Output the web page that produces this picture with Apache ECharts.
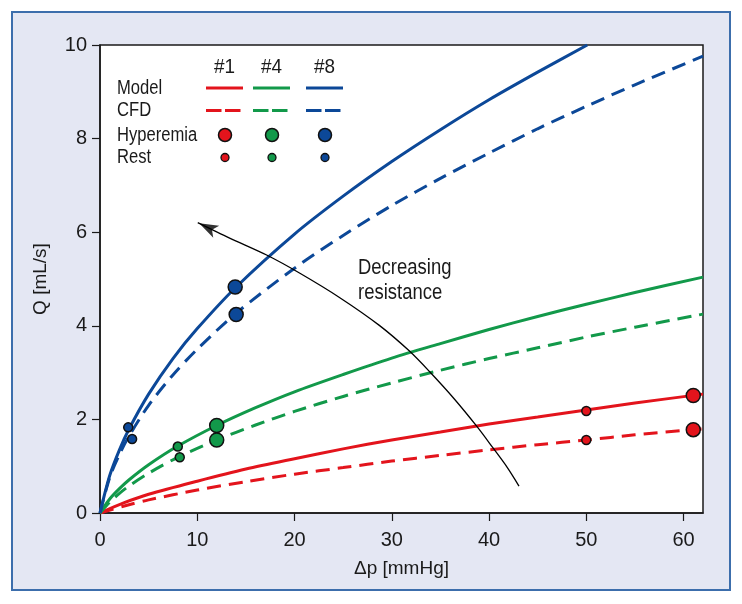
<!DOCTYPE html>
<html>
<head>
<meta charset="utf-8">
<script src="https://cdn.jsdelivr.net/npm/echarts@6/dist/echarts.min.js"></script>
<style>
html,body{margin:0;padding:0;background:#fff;}
#frame{position:absolute;left:11px;top:11px;width:716px;height:576px;background:#e4e7f3;border:2px solid #3c6eac;}
#chart{position:absolute;left:0;top:0;width:742px;height:604px;}
</style>
</head>
<body>
<div id="frame"></div>
<div id="chart"></div>
<script>
// ---- tick labels ----
const xTicks = [0, 10, 20, 30, 40, 50, 60];
const yTicks = [0, 2, 4, 6, 8, 10];

// ---- #1 (red) ----
const x1 = [0, 2.5, 5, 10, 15, 20, 25, 30, 35, 40, 45, 50, 55, 62];
const model1 = [0, 0.22, 0.40, 0.68, 0.94, 1.16, 1.37, 1.56, 1.73, 1.90, 2.05, 2.20, 2.35, 2.54];
const cfd1 = [0, 0.15, 0.28, 0.49, 0.67, 0.83, 0.97, 1.11, 1.23, 1.35, 1.46, 1.56, 1.67, 1.80];

// ---- #4 (green) ----
const x4 = [0, 1, 2, 3, 5, 8, 12, 16, 20, 25, 30, 35, 40, 45, 50, 55, 62];
const model4 = [0, 0.30, 0.52, 0.71, 1.03, 1.43, 1.87, 2.25, 2.59, 2.96, 3.31, 3.62, 3.92, 4.20, 4.46, 4.71, 5.04];
const cfd4 = [0, 0.23, 0.42, 0.58, 0.85, 1.19, 1.56, 1.88, 2.17, 2.49, 2.78, 3.05, 3.30, 3.53, 3.76, 3.97, 4.25];

// ---- #8 (blue) ----
const x8model = [0, 1, 2, 3, 5, 7.5, 10, 14, 20, 25, 30, 35, 40, 45, 50.1];
const model8 = [0, 0.80, 1.35, 1.80, 2.54, 3.30, 3.94, 4.83, 5.96, 6.77, 7.51, 8.19, 8.83, 9.42, 10];
const x8cfd = [0, 1, 2, 3, 5, 7.5, 10, 14, 20, 25, 30, 35, 40, 45, 50, 55, 62];
const cfd8 = [0, 0.76, 1.25, 1.65, 2.30, 2.95, 3.50, 4.27, 5.23, 5.93, 6.57, 7.15, 7.69, 8.21, 8.69, 9.15, 9.76];

// ---- measured points [Δp, Q] ----
const hyper1 = [[61, 2.51], [61, 1.78]];
const rest1 = [[50, 2.18], [50, 1.56]];
const hyper4 = [[12, 1.87], [12, 1.56]];
const rest4 = [[8, 1.42], [8.2, 1.19]];
const hyper8 = [[13.9, 4.83], [14.0, 4.24]];
const rest8 = [[2.9, 1.83], [3.3, 1.58]];

// ---- "decreasing resistance" arrow ----
const arrowX = [10.05, 13.33, 17.13, 20.51, 24.62, 28.72, 31.79, 33.85, 36.41, 38.77, 40.31, 41.85, 43.08];
const arrowY = [6.205, 5.874, 5.512, 5.128, 4.606, 4.009, 3.465, 3.028, 2.441, 1.844, 1.418, 0.981, 0.576];
const arrowHead = [[10.2, 6.19]];

const RED = '#e3141c', GREEN = '#12994a', BLUE = '#0c4898';
const FONT = "'Liberation Sans', Arial, 'Helvetica', sans-serif";
const INK = '#1a1a1a';

const zip = (xs, ys) => xs.map((x, i) => [x, ys[i]]);

function curve(name, xs, ys, color, dashed) {
  return {
    name, type: 'line', data: zip(xs, ys), smooth: 0.3,
    symbol: 'none', silent: true, z: 3,
    lineStyle: { color, width: 3, type: dashed ? [14, 8] : 'solid', cap: 'butt' }
  };
}
function dots(name, data, color, size) {
  return {
    name, type: 'scatter', data, symbol: 'circle', symbolSize: size, z: 6, silent: true,
    itemStyle: { color, borderColor: '#111', borderWidth: 1.5, opacity: 1 }
  };
}

// ---- legend table (decoration) ----
const legendCols = [{ label: '#1', c: RED, x0: 206, x1: 243 }, { label: '#4', c: GREEN, x0: 253, x1: 290 }, { label: '#8', c: BLUE, x0: 306, x1: 343 }];
const rowLabels = ['Model', 'CFD', 'Hyperemia', 'Rest'];
const rowY = [88, 110.5, 135, 157.5];
const graphics = [];
function txt(text, x, y, size, align, sx) {
  graphics.push({
    type: 'text', x, y, scaleX: sx, scaleY: 1, silent: true, z: 20,
    style: { text, fill: INK, font: size + 'px ' + FONT, align: align, textAlign: align, verticalAlign: 'middle', textVerticalAlign: 'middle' }
  });
}
legendCols.forEach(col => {
  const cx = (col.x0 + col.x1) / 2;
  txt(col.label, cx, 67, 21, 'center', 0.9);
  graphics.push({ type: 'line', z: 20, silent: true, shape: { x1: col.x0, y1: rowY[0], x2: col.x1, y2: rowY[0] }, style: { stroke: col.c, lineWidth: 3 } });
  graphics.push({ type: 'line', z: 20, silent: true, shape: { x1: col.x0, y1: rowY[1], x2: col.x1 - 2, y2: rowY[1] }, style: { stroke: col.c, lineWidth: 3, lineDash: [15.5, 3.5] } });
  graphics.push({ type: 'circle', z: 20, silent: true, shape: { cx: cx + 0.5, cy: rowY[2], r: 6.5 }, style: { fill: col.c, stroke: '#111', lineWidth: 1.5 } });
  graphics.push({ type: 'circle', z: 20, silent: true, shape: { cx: cx + 0.5, cy: rowY[3], r: 4 }, style: { fill: col.c, stroke: '#111', lineWidth: 1.3 } });
});
rowLabels.forEach((t, i) => txt(t, 117, rowY[i], 20, 'left', 0.83));
txt('Decreasing', 358, 268, 22, 'left', 0.84);
txt('resistance', 358, 293, 22, 'left', 0.84);

const chart = echarts.init(document.getElementById('chart'), null, { renderer: 'canvas' });
chart.setOption({
  backgroundColor: 'transparent',
  animation: false,
  textStyle: { fontFamily: FONT },
  grid: { left: 100, top: 45, right: 39, bottom: 91, show: true, backgroundColor: '#fff', borderColor: INK, borderWidth: 1.5, containLabel: false },
  xAxis: {
    type: 'value', min: 0, max: 62, interval: 10,
    name: 'Δp [mmHg]', nameLocation: 'middle', nameGap: 46,
    nameTextStyle: { fontSize: 19, color: INK, fontFamily: FONT },
    axisLine: { show: true, onZero: false, lineStyle: { color: INK, width: 1.5 } },
    axisTick: { show: true, inside: false, length: 8, customValues: xTicks, lineStyle: { color: INK, width: 1.2 } },
    axisLabel: { show: true, customValues: xTicks, fontSize: 20, color: INK, margin: 17, fontFamily: FONT },
    splitLine: { show: false }
  },
  yAxis: {
    type: 'value', min: 0, max: 10, interval: 2,
    name: 'Q [mL/s]', nameLocation: 'middle', nameGap: 50, nameRotate: 90,
    nameTextStyle: { fontSize: 19, color: INK, fontFamily: FONT },
    axisLine: { show: true, onZero: false, lineStyle: { color: INK, width: 1.5 } },
    axisTick: { show: true, inside: false, length: 8, customValues: yTicks, lineStyle: { color: INK, width: 1.2 } },
    axisLabel: { show: true, customValues: yTicks, fontSize: 20, color: INK, margin: 13, fontFamily: FONT },
    splitLine: { show: false }
  },
  graphic: graphics,
  series: [
    curve('Model #1', x1, model1, RED, false),
    curve('CFD #1', x1, cfd1, RED, true),
    curve('Model #4', x4, model4, GREEN, false),
    curve('CFD #4', x4, cfd4, GREEN, true),
    curve('Model #8', x8model, model8, BLUE, false),
    curve('CFD #8', x8cfd, cfd8, BLUE, true),
    {
      name: 'arrow', type: 'line', data: zip(arrowX, arrowY), smooth: 0.3, symbol: 'none', silent: true, z: 4,
      lineStyle: { color: '#000', width: 1.3 }
    },
    {
      name: 'arrowHead', type: 'scatter', data: arrowHead, symbol: 'arrow', symbolSize: [10, 19], symbolRotate: 63.6,
      silent: true, z: 5, itemStyle: { color: '#000' }
    },
    dots('Hyperemia #1', hyper1, RED, 14),
    dots('Rest #1', rest1, RED, 9),
    dots('Hyperemia #4', hyper4, GREEN, 14),
    dots('Rest #4', rest4, GREEN, 9),
    dots('Hyperemia #8', hyper8, BLUE, 14),
    dots('Rest #8', rest8, BLUE, 9)
  ]
});
</script>
</body>
</html>
